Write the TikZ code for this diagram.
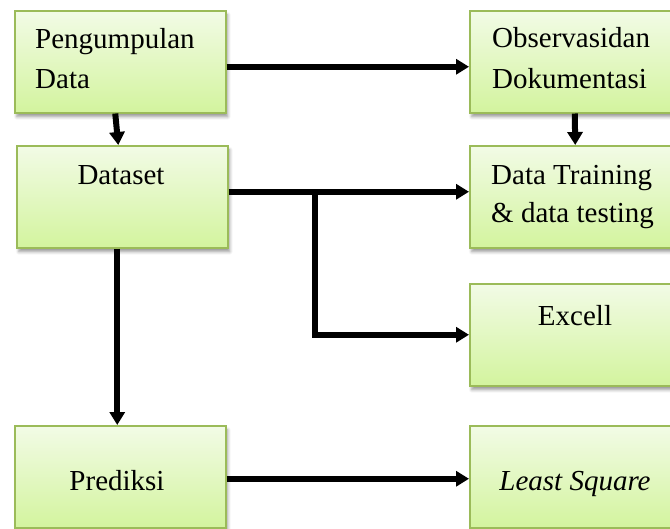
\documentclass[tikz,border=0pt]{standalone}
\usepackage{fontspec}
\setmainfont{Liberation Serif}
\usetikzlibrary{arrows.meta,shadows.blur,calc}
\definecolor{boxtop}{HTML}{F2FBE6}
\definecolor{boxbot}{HTML}{D3F49E}
\definecolor{boxline}{HTML}{9BBB59}
\tikzset{
 box/.style={draw=boxline, line width=1.5pt, top color=boxtop, bottom color=boxbot,
   minimum width=211pt, minimum height=102pt, inner sep=0pt, anchor=north west,
   blur shadow={shadow xshift=2pt, shadow yshift=-4pt, shadow blur radius=3pt, shadow opacity=40}},
 txt/.style={font=\fontsize{29}{40}\selectfont, inner sep=0pt},
 flow/.style={line width=6pt, -{Triangle[length=13pt,width=15pt]}}
}
\begin{document}
\begin{tikzpicture}[x=1pt,y=-1pt]
\useasboundingbox (0,0) rectangle (670,528);
\clip (0,0) rectangle (670,528);
\node[box] (pd) at (14,10) {};
\node[box] (ob) at (469,10) {};
\node[box] (ds) at (16,145) {};
\node[box] (dt) at (469,145) {};
\node[box] (ex) at (469,283) {};
\node[box] (pr) at (14,425) {};
\node[box] (ls) at (469,425) {};
\node[txt, anchor=base west] (t1) at (35,48) {Pengumpulan};
\node[txt, anchor=base west] (t2) at (35,88) {Data};
\node[txt, anchor=base west] (t3) at (492,47) {Observasidan};
\node[txt, anchor=base west] (t4) at (492,88) {Dokumentasi};
\node[txt, anchor=base] (t5) at (121,184) {Dataset};
\node[txt, anchor=base west] (t6) at (491,184) {Data Training};
\node[txt, anchor=base west] (t7) at (491,222) {\& data testing};
\node[txt, anchor=base] (t8) at (575,325) {Excell};
\node[txt, anchor=base] (t9) at (117,490) {Prediksi};
\node[txt, anchor=base] (t10) at (575,490) {\textit{Least Square}};
\draw[flow] ([yshift=-5pt]pd.east) -- ([yshift=-5pt]ob.west);
\draw[flow] ([xshift=-5pt]pd.south) -- ([xshift=-4pt]ds.north);
\draw[flow] ([xshift=-0.5pt]ob.south) -- (dt.north);
\draw[flow] ([yshift=5pt]ds.east) -- ([yshift=5pt]dt.west);
\coordinate (br) at (315,191);
\draw[flow] (br) |- (ex.west);
\draw[flow] ([xshift=-5pt]ds.south) -- ([xshift=-3pt]pr.north);
\draw[flow] ([yshift=-2pt]pr.east) -- ([yshift=-2pt]ls.west);
\end{tikzpicture}
\end{document}
